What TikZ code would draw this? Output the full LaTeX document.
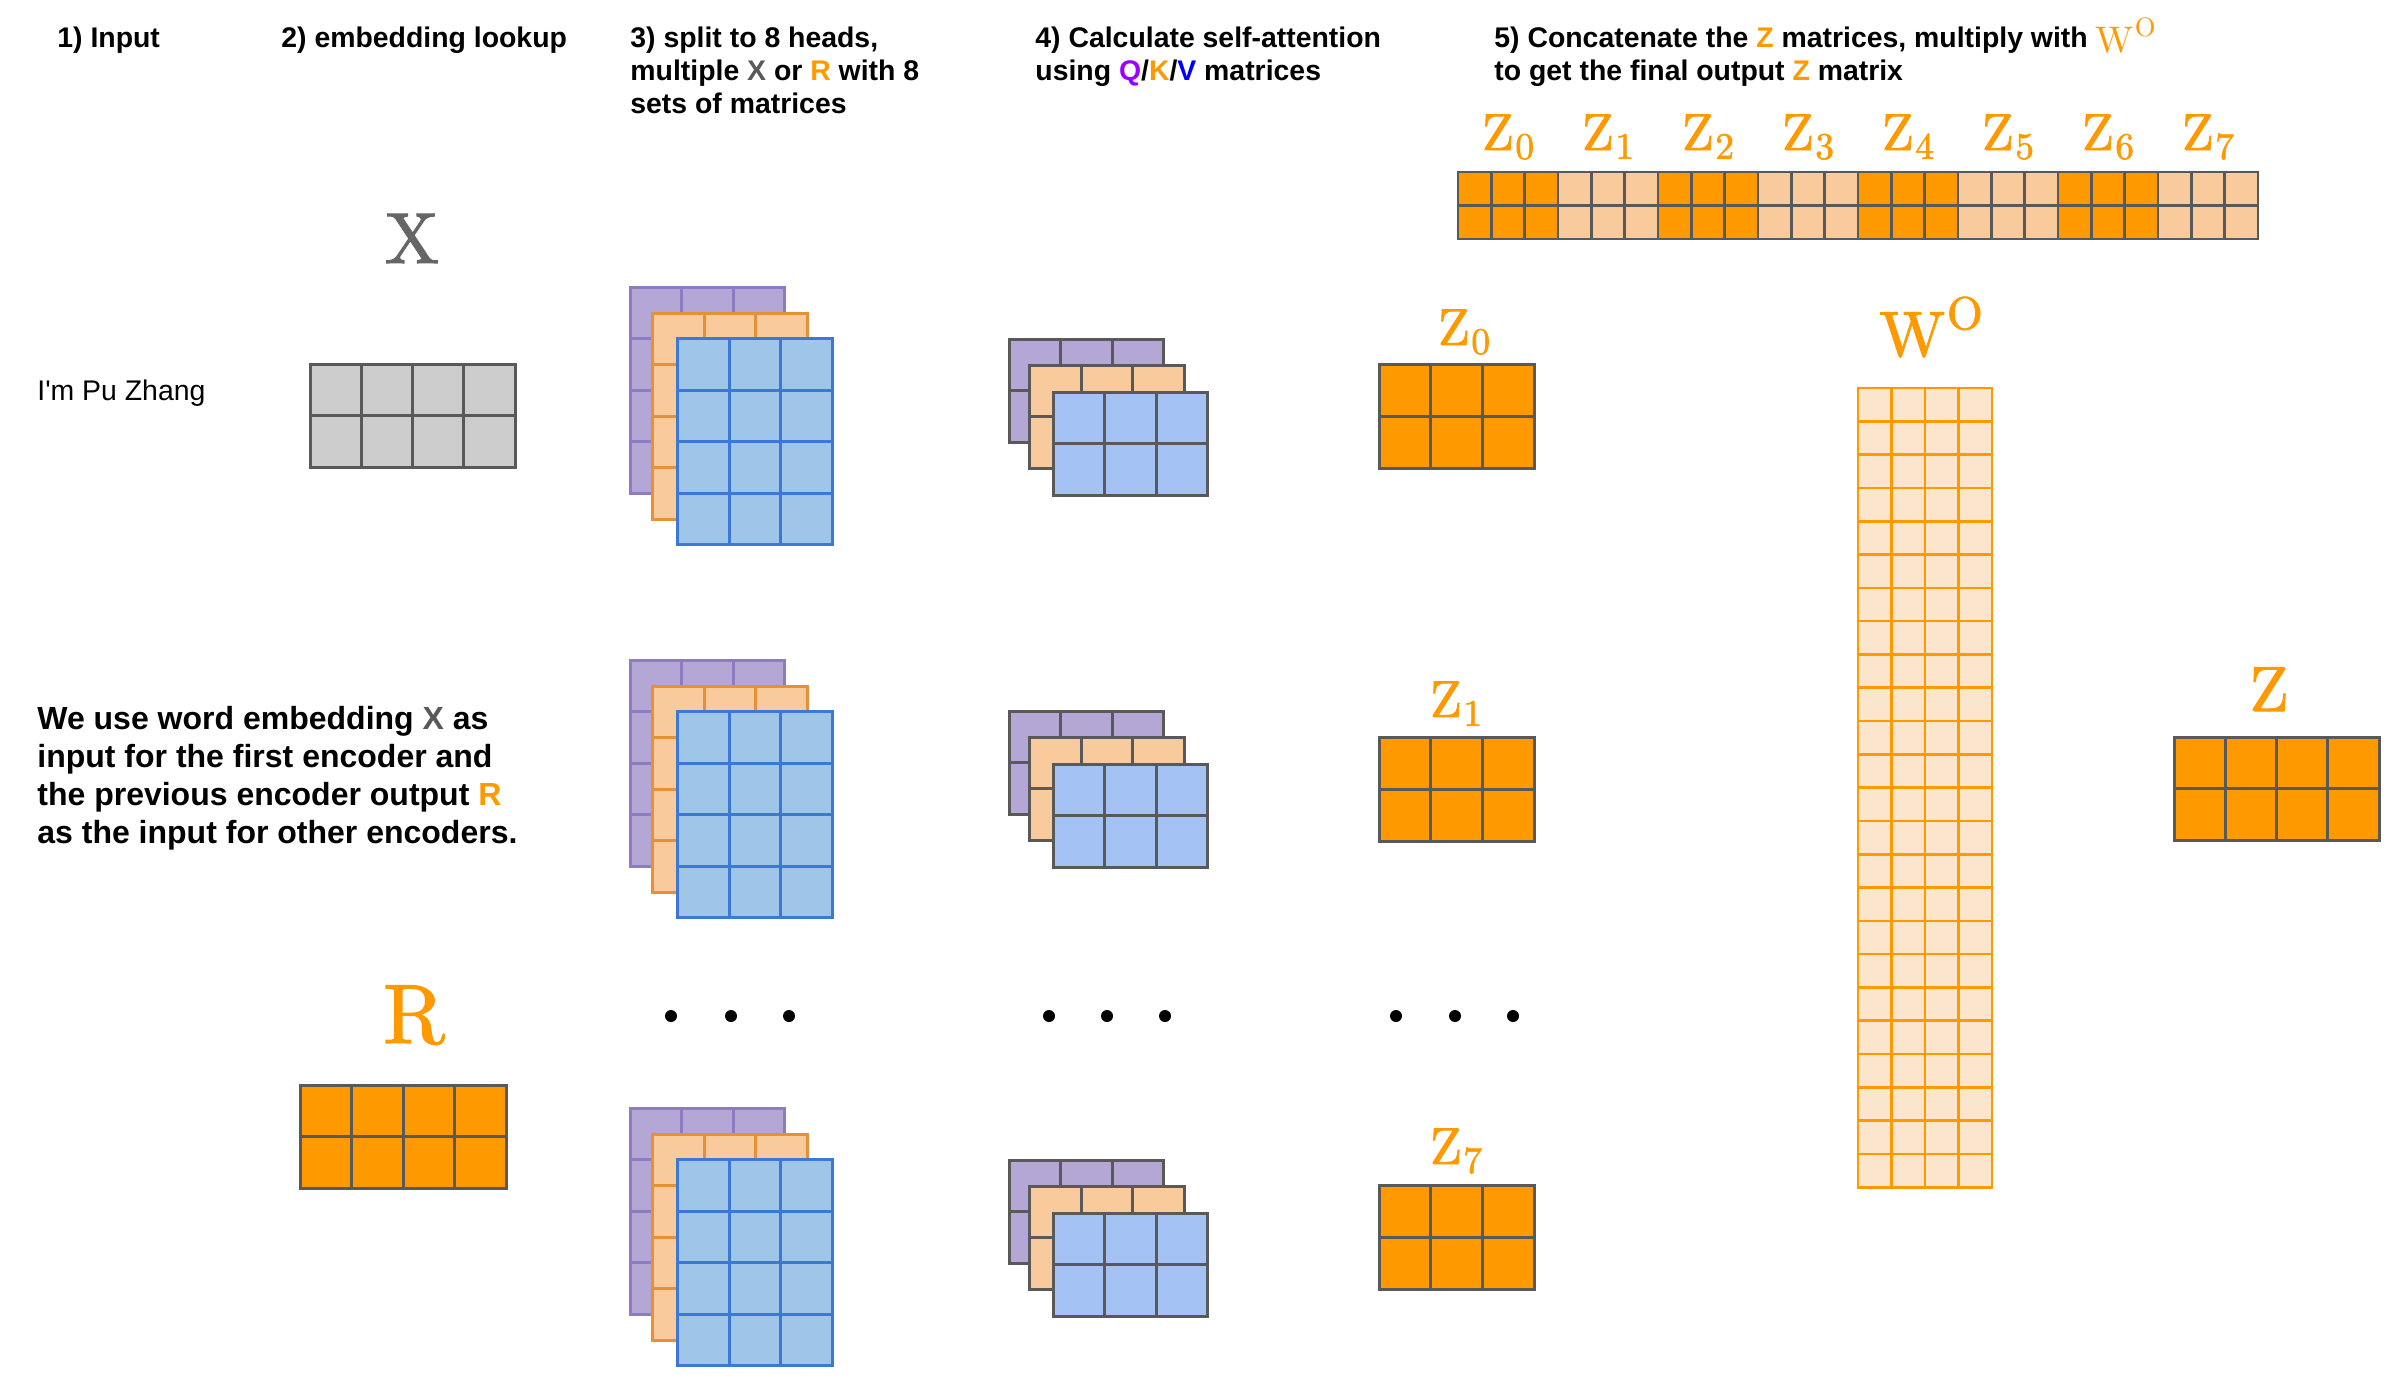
\RequirePackage{fix-cm}
\documentclass[tikz,border=0pt]{standalone}
\usepackage[no-math]{fontspec}
\setmainfont{Liberation Sans}
\newfontfamily\labfont[Extension=.otf,FakeBold=1.6]{lmroman10-regular}
\newfontfamily\labthin[Extension=.otf]{lmroman10-regular}
\definecolor{cOrange}{HTML}{FF9900}
\definecolor{cLightOr}{HTML}{F9CB9C}
\definecolor{cPale}{HTML}{FCE5CD}
\definecolor{cPurF}{HTML}{B4A7D6}
\definecolor{cPurB}{HTML}{8E7CC3}
\definecolor{cOrB}{HTML}{E69138}
\definecolor{cBluF}{HTML}{9FC5E8}
\definecolor{cBluB}{HTML}{3C78D8}
\definecolor{cBluS}{HTML}{A4C2F4}
\definecolor{cEdge}{HTML}{595959}
\definecolor{cGrayF}{HTML}{CCCCCC}
\definecolor{cQ}{HTML}{9900FF}
\definecolor{cV}{HTML}{0000FF}
\definecolor{cXtxt}{HTML}{595959}
\definecolor{cXlab}{HTML}{666666}
\tikzset{
  gridgray/.style={draw=cEdge, fill=cGrayF, line width=1.5pt},
  gridorange/.style={draw=cEdge, fill=cOrange, line width=1.5pt},
  bigpur/.style={draw=cPurB, fill=cPurF, line width=1.5pt},
  bigor/.style={draw=cOrB, fill=cLightOr, line width=1.5pt},
  bigblu/.style={draw=cBluB, fill=cBluF, line width=1.5pt},
  smpur/.style={draw=cEdge, fill=cPurF, line width=1.5pt},
  smor/.style={draw=cEdge, fill=cLightOr, line width=1.5pt},
  smblu/.style={draw=cEdge, fill=cBluS, line width=1.5pt},
  wocell/.style={draw=cOrange, fill=cPale, line width=1.3pt},
  barA/.style={draw=cEdge, fill=cOrange, line width=1.3pt},
  barB/.style={draw=cEdge, fill=cLightOr, line width=1.3pt},
  headtxt/.style={anchor=base west, inner sep=0pt, font=\fontsize{14.2pt}{16.6pt}\selectfont\bfseries},
  paratxt/.style={anchor=base west, inner sep=0pt, font=\fontsize{16pt}{19pt}\selectfont\bfseries},
  plaintxt/.style={anchor=base west, inner sep=0pt, font=\fontsize{14.2pt}{17pt}\selectfont},
  zlab/.style={anchor=base, inner sep=0pt, text=cOrange, font=\labfont\fontsize{26pt}{26pt}\selectfont},
  biglab/.style={anchor=base, inner sep=0pt, font=\labfont\fontsize{32pt}{32pt}\selectfont},
  dotmark/.style={fill=black},
}
% subscript / superscript helpers for the serif labels
\newcommand\lsub[2]{#1\kern0.03em\raisebox{-0.17em}{\scalebox{0.72}{#2}}}
\newcommand\lsup[2]{#1\kern0.03em\raisebox{0.42em}{\scalebox{0.72}{#2}}}
% style, x, y, cols, rows, cell width, cell height
\newcommand\cellgrid[7]{%
  \foreach \ci in {1,...,#4}{%
    \foreach \cj in {1,...,#5}{%
      \draw[#1] ({#2+(\ci-1)*#6},{#3+(\cj-1)*#7}) rectangle ++(#6,#7);
    }}}
\newcommand\bigstack[2]{%
  \cellgrid{bigpur}{#1}{#2}{3}{4}{51.6}{51.5}
  \cellgrid{bigor}{#1+22.5}{#2+26}{3}{4}{51.6}{51.5}
  \cellgrid{bigblu}{#1+47.5}{#2+51.5}{3}{4}{51.6}{51.5}}
\newcommand\smallstack[2]{%
  \cellgrid{smpur}{#1}{#2}{3}{2}{51.6}{51.5}
  \cellgrid{smor}{#1+20.5}{#2+26}{3}{2}{51.6}{51.5}
  \cellgrid{smblu}{#1+44}{#2+53}{3}{2}{51.6}{51.5}}
\begin{document}
\begin{tikzpicture}[x=0.5pt,y=-0.5pt]
\fill[white] (0,0) rectangle (2397,1376);
\useasboundingbox (0,0) rectangle (2397,1376);

% headings
\node[headtxt] (h1) at (57,47) {1) Input};
\node[headtxt] (h2) at (281,47) {2) embedding lookup};
\node[headtxt] (h3) at (630,47) {\begin{tabular}[t]{@{}l@{}}3) split to 8 heads,\\ multiple \textcolor{cXtxt}{X} or \textcolor{cOrange}{R} with 8\\ sets of matrices\end{tabular}};
\node[headtxt] (h4) at (1035,47) {\begin{tabular}[t]{@{}l@{}}4) Calculate self-attention\\ using \textcolor{cQ}{Q}/\textcolor{cOrange}{K}/\textcolor{cV}{V} matrices\end{tabular}};
\node[headtxt] (h5) at (1494,47) {\begin{tabular}[t]{@{}l@{}}5) Concatenate the \textcolor{cOrange}{Z} matrices, multiply with \raisebox{-2.5pt}{\textcolor{cOrange}{\labthin\mdseries\fontsize{18.5pt}{18.5pt}\selectfont\lsup{W}{O}}}\\ to get the final output \textcolor{cOrange}{Z} matrix\end{tabular}};

% input text
\node[plaintxt] (inp) at (37,400) {I\textquotesingle m Pu Zhang};
\node[paratxt] (para) at (37,729) {\begin{tabular}[t]{@{}l@{}}We use word embedding \textcolor{cXtxt}{X} as\\ input for the first encoder and\\ the previous encoder output \textcolor{cOrange}{R}\\ as the input for other encoders.\end{tabular}};

% X embedding
\node[biglab, text=cXlab, font=\labfont\fontsize{36pt}{36pt}\selectfont] (xlab) at (412,263) {X};
\cellgrid{gridgray}{310}{364}{4}{2}{51.3}{51.5}

% R
\node[biglab, text=cOrange, font=\labfont\fontsize{42pt}{42pt}\selectfont] (rlab) at (414,1043) {R};
\cellgrid{gridorange}{300}{1085}{4}{2}{51.5}{51.8}

% step 3 stacks
\bigstack{630}{287}
\bigstack{630}{660}
\bigstack{630}{1108}

% step 4 stacks
\smallstack{1009}{339}
\smallstack{1009}{711}
\smallstack{1009}{1160}

% dots
\foreach \dx in {671,731,789,1049,1107,1165,1396,1455,1513}
  \fill[dotmark] (\dx,1016) circle[radius=6];

% Z_i matrices
\node[zlab] (z0lab) at (1464,345) {\lsub{Z}{0}};
\cellgrid{gridorange}{1379}{364}{3}{2}{51.7}{52}
\node[zlab] (z1lab) at (1456,717) {\lsub{Z}{1}};
\cellgrid{gridorange}{1379}{737}{3}{2}{51.7}{52}
\node[zlab] (z7lab) at (1456,1164) {\lsub{Z}{7}};
\cellgrid{gridorange}{1379}{1185}{3}{2}{51.7}{52}

% concatenated bar
\cellgrid{barB}{1458}{172}{24}{2}{33.33}{33.5}
\foreach \g in {0,2,4,6}{\cellgrid{barA}{1458+\g*99.99}{172}{3}{2}{33.33}{33.5}}
\foreach \g in {0,...,7}
  \node[zlab] (zc\g) at ({1508+\g*99.99},150) {\lsub{Z}{\g}};

% W^O
\node[biglab, text=cOrange] (wolab) at (1931,356) {\lsup{W}{O}};
\cellgrid{wocell}{1858}{388}{4}{24}{33.5}{33.3}

% final Z
\node[biglab, text=cOrange] (zlab) at (2269,711) {Z};
\cellgrid{gridorange}{2174}{737}{4}{2}{51.3}{51.7}
\end{tikzpicture}
\end{document}
